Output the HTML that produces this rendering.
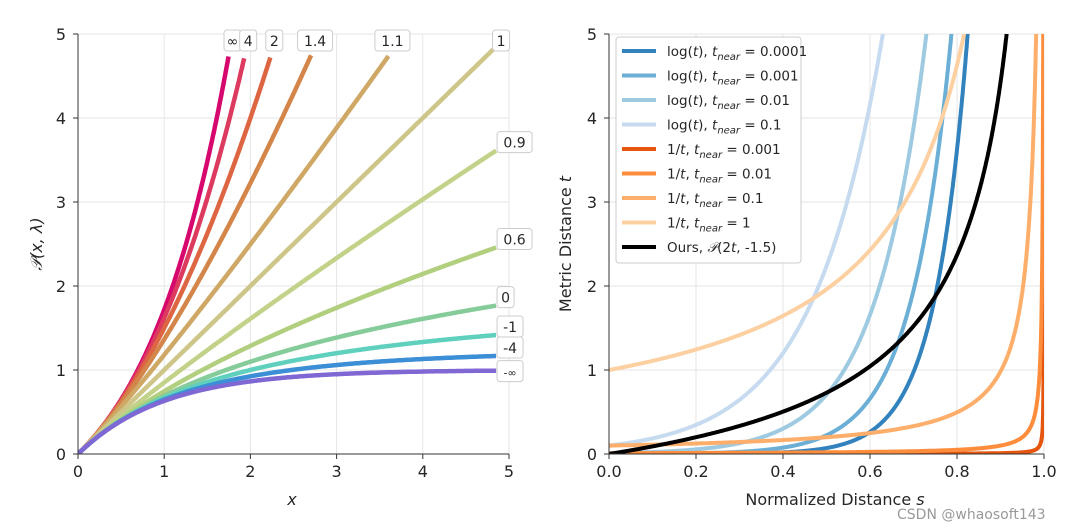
<!DOCTYPE html>
<html><head><meta charset="utf-8"><style>
html,body{margin:0;padding:0;background:#fff;width:1072px;height:529px;overflow:hidden}
svg text{font-family:"DejaVu Sans","Liberation Sans",sans-serif;fill:#262626}
</style></head><body>
<svg id="c" width="1072" height="529" xmlns="http://www.w3.org/2000/svg">
<defs>
<clipPath id="cl"><rect x="78" y="34" width="431" height="420"/></clipPath>
<clipPath id="cr"><rect x="609" y="34" width="435" height="420"/></clipPath>
</defs>
<g id="left"></g>
<g id="right"></g>
<text x="897" y="519" font-size="14" style="fill:#999">CSDN @whaosoft143</text>
</svg>
<script>
// ---- data ----
const lambdaLabels = ["∞","4","2","1.4","1.1","1","0.9","0.6","0","-1","-4","-∞"];
const lambdaValues = [Infinity,4,2,1.4,1.1,1,0.9,0.6,0,-1,-4,-Infinity];
const lambdaColors = ["#d6086e","#dc3a5e","#dd6542","#d4864a","#cfa866","#cdc688","#c2d288","#b1cf7e","#86cc9a","#5fd0bd","#3c8ed6","#8068d4"];
const leftTicks = [0,1,2,3,4,5];

const rightNames = ["log(t), ","log(t), ","log(t), ","log(t), ","1/t, ","1/t, ","1/t, ","1/t, ","Ours, "];
const rightKinds = ["log","log","log","log","inv","inv","inv","inv","ours"];
const rightTnear = [0.0001,0.001,0.01,0.1,0.001,0.01,0.1,1,0];
const rightTnearLabels = ["0.0001","0.001","0.01","0.1","0.001","0.01","0.1","1",""];
const rightColors = ["#3182bd","#6baed6","#9ecae1","#c6dbef","#e6550d","#fd8d3c","#fdae6b","#fdd0a2","#000000"];
const tFar = 50;
const rightXTicks = [0,0.2,0.4,0.6,0.8,1.0];
const rightYTicks = [0,1,2,3,4,5];

const NS="http://www.w3.org/2000/svg";
function mk(tag,attrs,parent){const e=document.createElementNS(NS,tag);for(const k in attrs)e.setAttribute(k,attrs[k]);parent.appendChild(e);return e;}
const Y = v => 454 - v*84;
const XL = v => 78 + v*86.2;
const XR = v => 609 + v*435;

function P(x,l){
  if(l===Infinity) return Math.exp(x)-1;
  if(l===-Infinity) return 1-Math.exp(-x);
  if(l===0) return Math.log(1+x);
  if(l===1) return x;
  const a=Math.abs(l-1);
  return a/l*(Math.pow(x/a+1,l)-1);
}

// ---- left ----
const L=document.getElementById('left');
leftTicks.forEach(t=>{
  let g=mk('line',{x1:XL(t),x2:XL(t),y1:34,y2:454,stroke:'#e6e6e6','stroke-width':1},L);
  
  g=mk('line',{x1:78,x2:509,y1:Y(t),y2:Y(t),stroke:'#e6e6e6','stroke-width':1},L);
  
  let tx=mk('text',{x:XL(t),y:477,'font-size':16,'text-anchor':'middle'},L);tx.textContent=t;
  
  tx=mk('text',{x:66,y:Y(t)+6,'font-size':16,'text-anchor':'end'},L);tx.textContent=t;
  
  mk('line',{x1:XL(t),x2:XL(t),y1:454,y2:459,stroke:'#333'},L);
  mk('line',{x1:73,x2:78,y1:Y(t),y2:Y(t),stroke:'#333'},L);
});
const curvesL=mk('g',{'clip-path':'url(#cl)'},L);
const labelsL=mk('g',{},L);
lambdaValues.forEach((l,i)=>{
  let pts=[],end=null,top=false;
  for(let k=0;k<=400;k++){
    const x=4.85*k/400, y=P(x,l);
    if(y>4.75 && l!==1){top=true;break;}
    pts.push(XL(x).toFixed(1)+','+Y(y).toFixed(1)); end=[XL(x),Y(y)];
  }
  const p=mk('polyline',{points:pts.join(' '),fill:'none',stroke:lambdaColors[i],'stroke-width':4.5,'stroke-linecap':'butt'},curvesL);
  
  const txt=lambdaLabels[i];
  const w=txt.length*9+8;
  let bx,by;
  if(top||i===5){bx=end[0]-w/2+4;by=30;}
  else {bx=end[0]+1;by=end[1]-19;}
  if(i===5){bx=end[0]-w/2+5;}
  if(i===11){by=end[1]-10;}
  const r=mk('rect',{x:bx,y:by,width:w,height:21,rx:3,fill:'#fff',stroke:'#ccc','stroke-width':1},labelsL);
  
  const t=mk('text',{x:bx+w/2,y:by+16,'font-size':i===11?11:14,'text-anchor':'middle'},labelsL);t.textContent=txt;
  
});
mk('line',{x1:78,x2:78,y1:34,y2:454,stroke:'#333','stroke-width':1},L);
mk('line',{x1:78,x2:509,y1:454,y2:454,stroke:'#333','stroke-width':1},L);
let xt=mk('text',{x:292,y:505,'font-size':16,'text-anchor':'middle','font-style':'italic'},L);xt.textContent='x';

let yt=mk('text',{x:0,y:0,'font-size':16,'text-anchor':'middle',transform:'translate(42,244) rotate(-90)','font-style':'italic'},L);yt.textContent='𝒫(x, λ)';


// ---- right ----
const R=document.getElementById('right');
rightXTicks.forEach(t=>{
  let g=mk('line',{x1:XR(t),x2:XR(t),y1:34,y2:454,stroke:'#e6e6e6'},R);
  
  let tx=mk('text',{x:XR(t),y:477,'font-size':16,'text-anchor':'middle'},R);tx.textContent=t.toFixed(1);
  
  mk('line',{x1:XR(t),x2:XR(t),y1:454,y2:459,stroke:'#333'},R);
});
rightYTicks.forEach(t=>{
  let g=mk('line',{x1:609,x2:1044,y1:Y(t),y2:Y(t),stroke:'#e6e6e6'},R);
  
  let tx=mk('text',{x:597,y:Y(t)+6,'font-size':16,'text-anchor':'end'},R);tx.textContent=t;
  
  mk('line',{x1:604,x2:609,y1:Y(t),y2:Y(t),stroke:'#333'},R);
});
function Pn(x){return (5/3)*(1-Math.pow(1+x/2.5,-1.5));}
const curvesR=mk('g',{'clip-path':'url(#cr)'},R);
rightKinds.forEach((kind,i)=>{
  const tn=rightTnear[i];let pts=[];
  for(let k=0;k<=1000;k++){
    const s=k/1000;let t;
    if(kind==='log') t=tn*Math.pow(tFar/tn,s);
    else if(kind==='inv') t=1/(1/tn+s*(1/tFar-1/tn));
    else {const pv=s*Pn(2*tFar);t=2.5*(Math.pow(1-0.6*pv,-1/1.5)-1)/2;}
    pts.push(XR(s).toFixed(1)+','+Math.max(Y(Math.min(t,6)),-50).toFixed(1));
  }
  const p=mk('polyline',{points:pts.join(' '),fill:'none',stroke:rightColors[i],'stroke-width':4},curvesR);
  
});
mk('line',{x1:609,x2:609,y1:34,y2:454,stroke:'#333'},R);
mk('line',{x1:609,x2:1044,y1:454,y2:454,stroke:'#333'},R);
// legend
const lg=mk('g',{},R);
mk('rect',{x:616,y:37,width:185,height:226,rx:3,fill:'#fff','fill-opacity':0.85,stroke:'#ccc'},lg);
rightKinds.forEach((kind,i)=>{
  const y=51+i*24.5;
  const ln=mk('line',{x1:622,x2:656,y1:y,y2:y,stroke:rightColors[i],'stroke-width':4},lg);
  
  const t=mk('text',{x:667,y:y+5,'font-size':13.5},lg);
  
  if(kind==='ours'){t.innerHTML='Ours, <tspan font-style="italic">𝒫</tspan>(2<tspan font-style="italic">t</tspan>, -1.5)';}
  else{
    const pre=kind==='log'?'log(<tspan font-style="italic">t</tspan>), ':'1/<tspan font-style="italic">t</tspan>, ';
    t.innerHTML=pre+'<tspan font-style="italic">t</tspan><tspan font-size="10" dy="4" font-style="italic">near</tspan><tspan dy="-4"> = '+rightTnearLabels[i]+'</tspan>';
  }
});
let rx=mk('text',{x:835,y:505,'font-size':16,'text-anchor':'middle'},R);rx.innerHTML='Normalized Distance <tspan font-style="italic">s</tspan>';

let ry=mk('text',{x:0,y:0,'font-size':16,'text-anchor':'middle',transform:'translate(571,244) rotate(-90)'},R);ry.innerHTML='Metric Distance <tspan font-style="italic">t</tspan>';

</script>
</body></html>
